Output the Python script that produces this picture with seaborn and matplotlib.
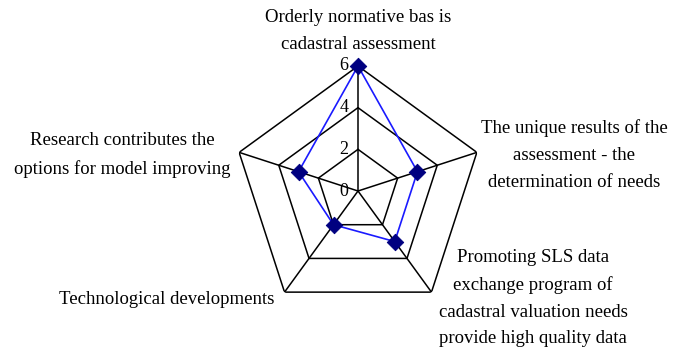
import numpy as np
import pandas as pd
import matplotlib
matplotlib.use("Agg")
import matplotlib.pyplot as plt
import seaborn as sns

categories = [
    "Orderly normative bas is\ncadastral assessment",
    "The unique results of the\nassessment - the\ndetermination of needs",
    "Promoting SLS data\nexchange program of\ncadastral valuation needs\nprovide high quality data",
    "Technological developments",
    "Research contributes the\noptions for model improving",
]
values = [6, 3, 3, 2, 3]
ticks = [0, 2, 4, 6]

sns.set_style("white")
plt.rcParams["font.family"] = ["Liberation Serif", "DejaVu Serif"]

W, H = 678, 350
fig = plt.figure(figsize=(W / 100, H / 100), dpi=100)
cx, cy, R = 358, 191, 125
ax = fig.add_axes([(cx - R) / W, (H - cy - R) / H, 2 * R / W, 2 * R / H], projection="polar")
ax.set_theta_offset(np.pi / 2)
ax.set_theta_direction(-1)
ax.set_ylim(0, 6)
ax.grid(False)
ax.spines["polar"].set_visible(False)
ax.set_xticks([])
ax.set_yticks([])
ax.patch.set_alpha(0)

n = len(categories)
angles = np.linspace(0, 2 * np.pi, n, endpoint=False)
closed = np.append(angles, 2 * np.pi)

# pentagon grid rings and spokes
for t in ticks[1:]:
    ax.plot(closed, [t] * (n + 1), color="black", lw=1.1, zorder=1)
for a in angles:
    ax.plot([a, a], [0, ticks[-1]], color="black", lw=1.1, zorder=1)

df = pd.DataFrame({
    "angle": closed,
    "value": values + [values[0]],
})
sns.lineplot(data=df, x="angle", y="value", sort=False, estimator=None,
             color="#1a1aff", lw=1.2, ax=ax, zorder=2)
sns.scatterplot(data=df.iloc[:-1], x="angle", y="value", marker="D", s=70,
                color="#000080", edgecolor="#000080", ax=ax, zorder=3,
                clip_on=False)
ax.set_xlabel("")
ax.set_ylabel("")

# radial tick values along the top spoke
for t in ticks:
    ax.text(0, t, f"{t}  ", ha="right", va="center", fontsize=13, color="black")

fs = 13.5
ls = 1.75
label_pos = [
    (358, 31, "center"),
    (574, 155, "center"),
    (533, 298, "center"),
    (167, 300, "center"),
    (122, 155, "center"),
]
for lab, (x, y, ha) in zip(categories, label_pos):
    fig.text(x / W, 1 - y / H, lab, ha=ha, va="center", fontsize=fs,
             linespacing=ls, color="black")

fig.savefig("out.png", dpi=100, facecolor="white")
